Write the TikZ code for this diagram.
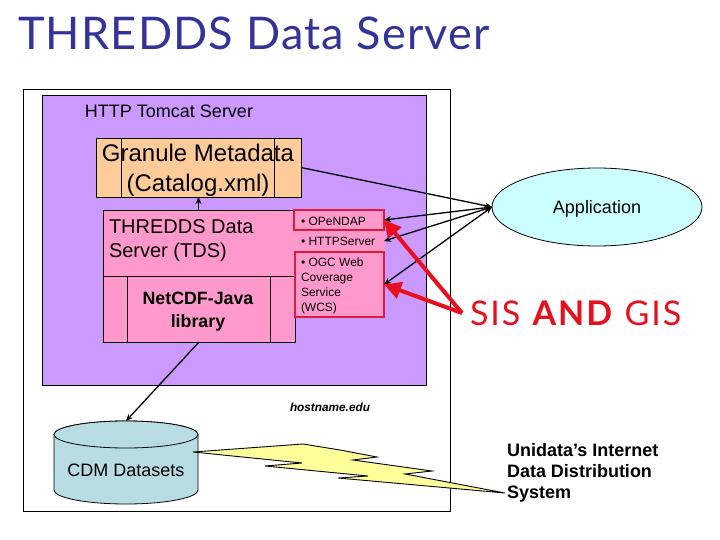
\documentclass[tikz,border=0pt]{standalone}
\usepackage{fontspec}
\setmainfont{Liberation Sans}
\newfontfamily\titlefont[LetterSpace=2.7]{Lato}
\newfontfamily\sisfont[LetterSpace=5.6]{Lato}
\usetikzlibrary{arrows.meta,shapes.geometric}
\definecolor{navytitle}{HTML}{333399}
\definecolor{purplebg}{HTML}{CC99FF}
\definecolor{orangebox}{HTML}{FFCC99}
\definecolor{pinkbox}{HTML}{FF99CC}
\definecolor{cyanbox}{HTML}{CCFFFF}
\definecolor{drumblue}{HTML}{B7DDE3}
\definecolor{boltyellow}{HTML}{FFFF99}
\definecolor{crimsonline}{HTML}{DC1C3C}
\definecolor{redarrow}{HTML}{E8101C}
\newcommand{\pxfont}[1]{\fontsize{#1}{#1}\selectfont}
\tikzset{
  boxbase/.style={draw=black,line width=0.9pt,inner sep=0pt,outer sep=0pt},
  orangestyle/.style={boxbase,fill=orangebox},
  pinkstyle/.style={boxbase,fill=pinkbox},
  svcstyle/.style={draw=#1,fill=pinkbox,line width=2pt,inner sep=0pt,outer sep=0pt},
  labelstyle/.style={inner sep=0pt,outer sep=0pt,text=black},
  thinarrow/.style={-{Stealth[length=7pt,width=6pt]},black,line width=1.3pt},
  bothheads/.style={{Stealth[length=7pt,width=6pt]}-{Stealth[length=7pt,width=6pt]},black,line width=1.3pt},
  redthick/.style={-{Triangle[length=17pt,width=17pt]},redarrow,line width=4pt},
}
\begin{document}
\begin{tikzpicture}[x=1pt,y=-1pt]
\useasboundingbox (0,0) rectangle (720,540);
\fill[white] (0,0) rectangle (720,540);

\node[labelstyle,anchor=base west,text=navytitle,font=\titlefont\pxfont{45}] (title) at (18,50) {THREDDS Data Server};

\node[draw=black,line width=1pt,fill=white,inner sep=0pt,minimum width=427pt,minimum height=421pt] (outer) at (237,300.5) {};
\node[draw=black,line width=1pt,fill=purplebg,inner sep=0pt,minimum width=384pt,minimum height=289pt] (tomcat) at (234,240.5) {};
\node[labelstyle,font=\pxfont{18}] (tomcatlabel) at (169,111) {HTTP Tomcat Server};

% Granule metadata
\node[orangestyle,minimum width=205pt,minimum height=59pt] (granule) at (198.5,167.5) {};
\draw[line width=0.9pt] (121,138) -- (121,197) (274,138) -- (274,197);
\node[labelstyle,align=center,font=\pxfont{24}] (granuletext) at (198,170) {Granule Metadata\\[6pt](Catalog.xml)};

% TDS
\node[pinkstyle,minimum width=192pt,minimum height=132pt] (tds) at (199,276) {};
\draw[line width=0.9pt] (103,276) -- (295,276) (127,276) -- (127,342) (270,276) -- (270,342);
\node[labelstyle,align=left,font=\pxfont{20},anchor=west] (tdstext) at (109,241) {THREDDS Data\\[4pt]Server (TDS)};
\node[labelstyle,align=center,font=\bfseries\pxfont{17.8}] (netcdf) at (198,312) {NetCDF-Java\\[5pt]library};

% Service boxes
\node[svcstyle=pinkbox,minimum width=89pt,minimum height=23pt] (http) at (339.5,241) {};
\node[svcstyle=crimsonline,minimum width=90pt,minimum height=20pt] (opendap) at (339,220) {};
\node[svcstyle=crimsonline,minimum width=89pt,minimum height=65pt] (ogc) at (339.5,284.5) {};
\node[labelstyle,anchor=west,font=\pxfont{12}] (opendaptext) at (301,221.5) {• OPeNDAP};
\node[labelstyle,anchor=west,font=\pxfont{12}] (httptext) at (301,241) {• HTTPServer};
\node[labelstyle,anchor=west,align=left,font=\pxfont{12}] (ogctext) at (301,286) {• OGC Web\\[2.8pt]Coverage\\[2.8pt]Service\\[2.8pt](WCS)};

% Application
\node[draw=black,line width=0.8pt,fill=cyanbox,shape=ellipse,inner sep=0pt,outer sep=0pt,minimum width=210pt,minimum height=78pt] (app) at (597,207) {};
\node[labelstyle,font=\pxfont{18}] (apptext) at (597,209) {Application};

% SIS AND GIS
\node[labelstyle,anchor=base west,text=redarrow,font=\sisfont\pxfont{34}] (sis) at (470,325) {SIS \textbf{AND} GIS};
\coordinate (sisfrom) at (462,313);

\node[labelstyle,font=\itshape\bfseries\pxfont{11.8}] (host) at (330,407) {hostname.edu};

% Cylinder
\fill[drumblue,draw=black,line width=0.8pt] (54,434.5) -- (54,490) arc[start angle=180,end angle=360,x radius=72,y radius=-14] -- (198,434.5) arc[start angle=0,end angle=180,x radius=72,y radius=-13.5] -- cycle;
\draw[fill=drumblue,line width=0.8pt] (126,434.5) ellipse[x radius=72,y radius=13.5];
\node[inner sep=0pt,outer sep=0pt,minimum width=144pt,minimum height=83pt] (cdm) at (126,462.5) {};
\node[labelstyle,font=\pxfont{18}] (cdmtext) at (126,470) {CDM Datasets};

% Lightning
\draw[fill=boltyellow,line width=0.9pt,line join=miter] (193,452) -- (303,444) -- (340,450) -- (377,457) -- (353,460) -- (432,471) -- (405,474) -- (505,493) -- (338,478) -- (368,476) -- (265,466) -- (302,463) -- cycle;

\node[labelstyle,anchor=west,align=left,font=\bfseries\pxfont{18}] (idd) at (507,473) {Unidata’s Internet\\[3pt]Data Distribution\\[3pt]System};

% Connectors
\draw[thinarrow] (tds.north -| granule.south) -- (granule.south);
\draw[thinarrow] (granule.east) -- (app.west);
\draw[bothheads] (app.west) -- (opendap.east);
\draw[bothheads] (app.west) -- (http.east);
\draw[bothheads] (app.west) -- (ogc.east);
\draw[thinarrow] (tds.south) -- (cdm.north);
\draw[redthick] (sisfrom) -- (opendap.east);
\draw[redthick] (sisfrom) -- (ogc.east);
\end{tikzpicture}
\end{document}
